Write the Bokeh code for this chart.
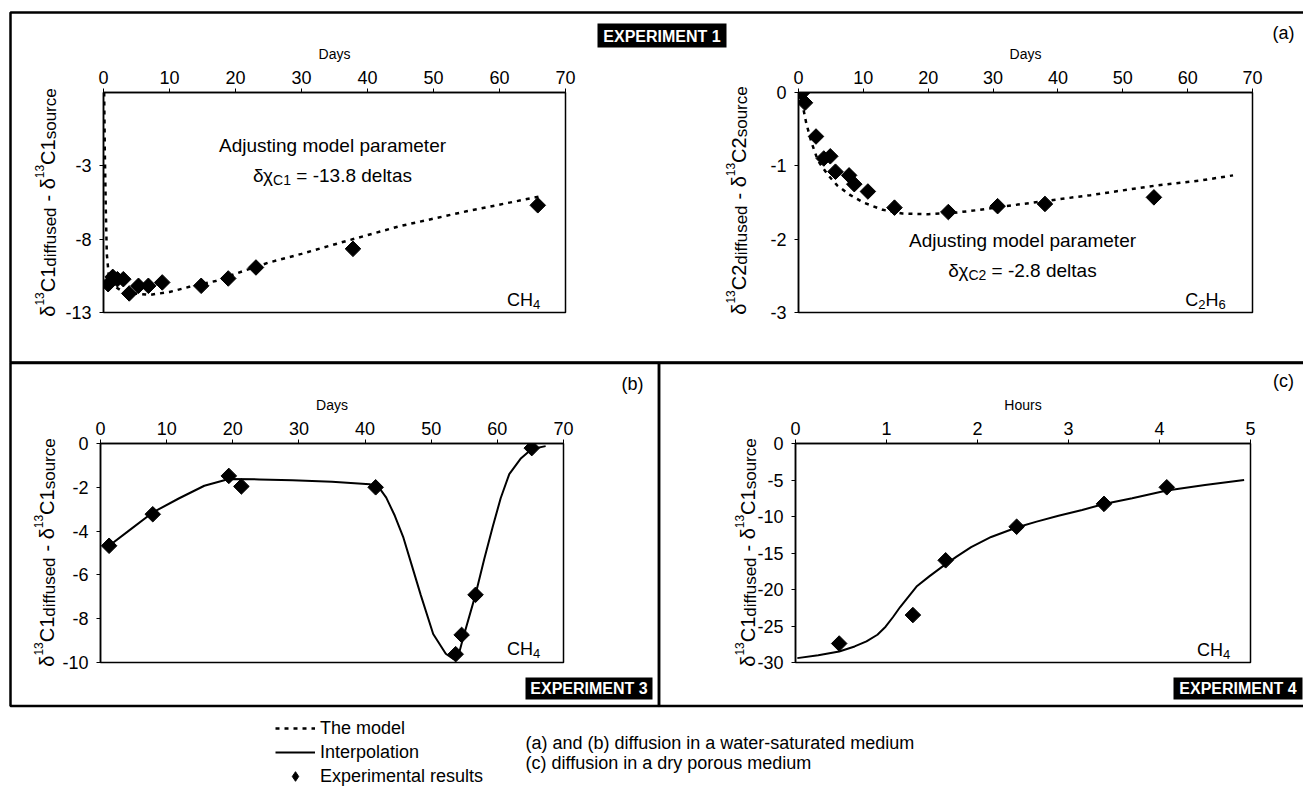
import math
from bokeh.plotting import figure
from bokeh.models import (Range1d, FixedTicker, Label, BoxAnnotation, Legend, LegendItem,
                          ColumnDataSource)
from bokeh.layouts import column, row
from bokeh.embed import file_html
from bokeh.resources import INLINE

FONT = "Liberation Sans"

# ---------------- data ----------------
# (a) Experiment 1, CH4
a1_days = [0.7, 1.4, 2.1, 3.0, 3.9, 5.3, 6.8, 8.9, 14.8, 18.9, 23.1, 37.8, 65.8]
a1_delta = [-11.07, -10.57, -10.73, -10.73, -11.7, -11.18, -11.18, -10.95, -11.18, -10.68, -9.93, -8.66, -5.69]
a1_model_days = [0.1, 0.2, 0.35, 0.5, 0.8, 1.3, 2.5, 4.5, 7, 10, 13, 17, 21, 25, 30, 37, 45, 55, 66]
a1_model_delta = [2.0, -2.0, -6.0, -9.0, -10.5, -11.1, -11.45, -11.7, -11.8, -11.6, -11.25, -10.85,
                  -10.2, -9.6, -9.0, -8.1, -7.1, -6.1, -5.1]
# (a) Experiment 1, C2H6
a2_days = [0.5, 1.0, 2.7, 3.9, 4.9, 5.7, 7.8, 8.6, 10.7, 14.8, 23.1, 30.7, 38.0, 54.8]
a2_delta = [-0.01, -0.14, -0.6, -0.9, -0.87, -1.08, -1.13, -1.25, -1.35, -1.57, -1.63, -1.55, -1.52, -1.43]
a2_model_days = [0.3, 0.7, 1.2, 2, 3, 4.5, 6, 8, 10, 13, 16, 20, 24, 28, 32, 38, 45, 55, 62, 67]
a2_model_delta = [0, -0.2, -0.42, -0.68, -0.93, -1.12, -1.27, -1.4, -1.5, -1.6, -1.65, -1.66, -1.64,
                  -1.6, -1.55, -1.48, -1.4, -1.27, -1.2, -1.13]
# (b) Experiment 3, CH4
b_days = [1.3, 7.9, 19.4, 21.3, 41.6, 53.7, 54.6, 56.7, 65.2]
b_delta = [-4.67, -3.23, -1.48, -1.96, -2.0, -9.62, -8.74, -6.91, -0.21]
b_interp_days = [1.3, 4.2, 7.9, 11.9, 15.7, 19.4, 24, 29, 35, 40.7, 42.2, 43.2, 44.5, 45.8, 47.1, 48.4,
                 50.3, 52.2, 53.4, 54.1, 54.8, 56.7, 58, 59.3, 60.5, 61.8, 63.5, 65.2, 67.3]
b_interp_delta = [-4.67, -4.0, -3.15, -2.5, -1.93, -1.62, -1.64, -1.68, -1.75, -1.86, -2.05, -2.47, -3.3,
                  -4.3, -5.6, -6.9, -8.7, -9.6, -9.85, -9.7, -8.9, -6.9, -5.3, -3.8, -2.5, -1.4, -0.7,
                  -0.25, -0.12]
# (c) Experiment 4, CH4
c_hours = [0.48, 1.29, 1.65, 2.43, 3.39, 4.08]
c_delta = [-27.4, -23.5, -16.0, -11.4, -8.27, -6.0]
c_interp_hours = [0.02, 0.25, 0.48, 0.65, 0.78, 0.9, 0.99, 1.07, 1.15, 1.24, 1.33, 1.47, 1.61, 1.77,
                  1.93, 2.15, 2.43, 2.65, 2.89, 3.15, 3.39, 3.7, 4.08, 4.5, 4.93]
c_interp_delta = [-29.4, -29.0, -28.5, -27.8, -27.1, -26.2, -25.1, -23.8, -22.4, -21.0, -19.6, -18.2,
                  -16.9, -15.5, -14.2, -12.8, -11.5, -10.7, -9.9, -9.1, -8.3, -7.5, -6.45, -5.7, -5.0]

day_ticks = [0, 10, 20, 30, 40, 50, 60, 70]
hour_ticks = [0, 1, 2, 3, 4, 5]
a1_yticks = [-13, -8, -3]
a2_yticks = [0, -1, -2, -3]
b_yticks = [0, -2, -4, -6, -8, -10]
c_yticks = [0, -5, -10, -15, -20, -25, -30]

legend_labels = ["The model", "Interpolation", "Experimental results"]
notes = ["(a) and (b) diffusion in a water-saturated medium", "(c) diffusion in a dry porous medium"]

# ---------------- helpers ----------------
W = {'δ': .556, 'χ': .5, '1': .556, '2': .556, '3': .556, '4': .556, '6': .556, '8': .556, 'C': .722,
     'H': .722, 'd': .556, 'i': .222, 'f': .278, 'u': .556, 's': .5, 'e': .556, ' ': .278, '-': .333,
     'o': .556, 'r': .333, 'c': .5, 'l': .222, 't': .278, 'a': .556, '=': .584, '.': .278}


def tw(s, size):
    return sum(W.get(ch, 0.556) for ch in s) * size


def label(p, x, y, text, size=18, align="center", baseline="middle", angle=0.0,
          color="black", style="normal"):
    p.add_layout(Label(x=x, y=y, x_units="canvas", y_units="canvas", text=text,
                       text_font=FONT, text_font_size=f"{size}px", text_align=align,
                       text_baseline=baseline, angle=angle, text_color=color,
                       text_font_style=style))


def composite(p, cx, cy, pieces, main_size, vertical=False):
    total = sum(tw(t, s) for t, s, _ in pieces)
    cap = 0.716 * main_size
    if not vertical:
        x = cx - total / 2
        base = cy + cap / 2
        for t, s, sh in pieces:
            lead = len(t) - len(t.lstrip(" "))
            label(p, x + tw(" " * lead, s), base + sh, t.strip(" "), size=s,
                  align="left", baseline="alphabetic")
            x += tw(t, s)
    else:
        y = cy + total / 2
        base = cx + cap / 2
        for t, s, sh in pieces:
            lead = len(t) - len(t.lstrip(" "))
            label(p, base + sh, y - tw(" " * lead, s), t.strip(" "), size=s,
                  align="left", baseline="alphabetic", angle=math.pi / 2)
            y -= tw(t, s)


def ytitle(p, cx, cy, n):
    pieces = [("δ", 20, 0), ("13", 12, -8), ("C" + n, 20, 0), ("diffused", 17, 3),
              (" - δ", 20, 0), ("13", 12, -8), ("C" + n, 20, 0), ("source", 17, 3)]
    composite(p, cx, cy, pieces, 20, vertical=True)


def box(p, l, r, t, b, fill=None, lw=2.5):
    p.add_layout(BoxAnnotation(left=l, right=r, top=t, bottom=b,
                               left_units="canvas", right_units="canvas", top_units="canvas",
                               bottom_units="canvas",
                               fill_color=fill if fill else "white", fill_alpha=1 if fill else 0,
                               line_color=None if fill else "black", line_alpha=1,
                               line_width=lw))


def make_fig(w, h, bl, br, bt, bb, xr, yr, xticks, yticks, xlabel):
    p = figure(width=w, height=h, x_range=Range1d(*xr), y_range=Range1d(*yr),
               x_axis_location="above", output_backend="svg", toolbar_location=None,
               min_border_left=bl, min_border_right=br, min_border_top=bt, min_border_bottom=bb)
    p.grid.visible = False
    p.outline_line_color = "black"
    p.outline_line_width = 1.5
    p.outline_line_alpha = 1
    p.background_fill_alpha = 0
    p.border_fill_alpha = 0
    for ax in p.axis:
        ax.axis_line_color = "black"
        ax.axis_line_width = 1.5
        ax.major_tick_in = 0
        ax.major_tick_out = 4
        ax.major_tick_line_color = "black"
        ax.minor_tick_line_color = None
        ax.major_label_text_font = FONT
        ax.major_label_text_font_size = "18px"
        ax.major_label_text_color = "black"
    p.xaxis.ticker = FixedTicker(ticks=xticks)
    p.yaxis.ticker = FixedTicker(ticks=yticks)
    p.xaxis.major_label_overrides = {t: str(t) for t in xticks}
    p.yaxis.major_label_overrides = {t: str(t) for t in yticks}
    p.xaxis.major_label_standoff = 5
    p.yaxis.major_label_standoff = 8
    p.xaxis.axis_label = xlabel
    p.xaxis.axis_label_text_font = FONT
    p.xaxis.axis_label_text_font_size = "14px"
    p.xaxis.axis_label_text_font_style = "normal"
    p.xaxis.axis_label_text_color = "black"
    p.xaxis.axis_label_standoff = 6
    return p


DASH = "4 5"

# ---------------- charts ----------------
pA1 = make_fig(590, 362, 103, 25, 92, 50, (0, 70), (-13, 2), day_ticks, a1_yticks, "Days")
pA1.line(a1_model_days, a1_model_delta, line_dash=DASH, line_width=2.5, color="black")
pA1.scatter(a1_days, a1_delta, marker="square", angle=math.pi / 4, size=11, color="black")

pA2 = make_fig(713, 362, 208, 51, 92, 50, (0, 70), (-3, 0), day_ticks, a2_yticks, "Days")
pA2.line(a2_model_days, a2_model_delta, line_dash=DASH, line_width=2.5, color="black")
pA2.scatter(a2_days, a2_delta, marker="square", angle=math.pi / 4, size=11, color="black")

pB = make_fig(660, 345, 100, 97, 81, 45, (0, 70), (-10, 0), day_ticks, b_yticks, "Days")
pB.line(b_interp_days, b_interp_delta, line_width=2, color="black")
pB.scatter(b_days, b_delta, marker="square", angle=math.pi / 4, size=11, color="black")

pC = make_fig(643, 345, 135, 53, 81, 45, (0, 5), (-30, 0), hour_ticks, c_yticks, "Hours")
pC.line(c_interp_hours, c_interp_delta, line_width=2, color="black")
pC.scatter(c_hours, c_delta, marker="square", angle=math.pi / 4, size=11, color="black")

# ---------------- background page (boxes, texts, legend) ----------------
bg = figure(width=1303, height=798, x_range=Range1d(0, 1303), y_range=Range1d(798, 0),
            x_axis_type=None, y_axis_type=None, output_backend="svg", toolbar_location=None,
            min_border=0)
bg.grid.visible = False
bg.outline_line_color = None
bg.background_fill_color = "white"
bg.border_fill_color = "white"

# outer boxes
box(bg, 10, 1400, 12, 362)
box(bg, 10, 658.5, 362.5, 705.5)
box(bg, 658.5, 1400, 362.5, 705.5)

# panel (a)
ytitle(bg, 40, 202, "1")
label(bg, 332, 145, "Adjusting model parameter", size=19)
composite(bg, 332, 168, [("δχ", 19, 0), ("C1", 14, 5), (" = -13.8 deltas", 19, 0)], 19)
composite(bg, 523, 293, [("CH", 18, 0), ("4", 13, 5)], 18)
ytitle(bg, 731, 200, "2")
label(bg, 1022, 240, "Adjusting model parameter", size=19)
composite(bg, 1022, 263, [("δχ", 19, 0), ("C2", 14, 5), (" = -2.8 deltas", 19, 0)], 19)
composite(bg, 1205, 293, [("C", 18, 0), ("2", 13, 5), ("H", 18, 0), ("6", 13, 5)], 18)
label(bg, 1283, 32, "(a)", size=18)
box(bg, 597, 726, 23, 47, fill="black")
label(bg, 661.5, 35.5, "EXPERIMENT 1", size=16, color="white", style="bold")

# panel (b)
ytitle(bg, 39, 552, "1")
composite(bg, 523, 642, [("CH", 18, 0), ("4", 13, 5)], 18)
label(bg, 632, 383, "(b)", size=18)
box(bg, 525, 652, 677, 699, fill="black")
label(bg, 588.5, 688, "EXPERIMENT 3", size=16, color="white", style="bold")

# panel (c)
ytitle(bg, 740, 552, "1")
composite(bg, 1213, 643, [("CH", 18, 0), ("4", 13, 5)], 18)
label(bg, 1283, 380, "(c)", size=18)
box(bg, 1173, 1302, 677, 699, fill="black")
label(bg, 1237.5, 688, "EXPERIMENT 4", size=16, color="white", style="bold")

# legend (keys drawn by Bokeh's Legend from style-only renderers)
nan = float("nan")
key_src = ColumnDataSource(data=dict(x=[nan], y=[nan]))
r_model = bg.line("x", "y", source=key_src, line_dash=DASH, line_width=2.5, color="black")
r_interp = bg.line("x", "y", source=key_src, line_width=2, color="black")
r_exp = bg.scatter("x", "y", source=key_src, marker="diamond", size=14, color="black")
legend = Legend(items=[LegendItem(label=legend_labels[0], renderers=[r_model]),
                       LegendItem(label=legend_labels[1], renderers=[r_interp]),
                       LegendItem(label=legend_labels[2], renderers=[r_exp])],
                location=(275, 10), border_line_color=None, background_fill_alpha=0,
                label_text_font=FONT, label_text_font_size="18px", label_text_color="black",
                glyph_width=40, glyph_height=24, label_height=24, spacing=0, padding=0,
                margin=0, label_standoff=5)
bg.add_layout(legend)
label(bg, 525, 742, notes[0], size=18, align="left")
label(bg, 525, 762, notes[1], size=18, align="left")

charts = column(row(pA1, pA2), row(pB, pC), margin=(-798, 0, 0, 0))
layout = column(bg, charts)
open("out.html", "w").write(file_html(layout, INLINE))
